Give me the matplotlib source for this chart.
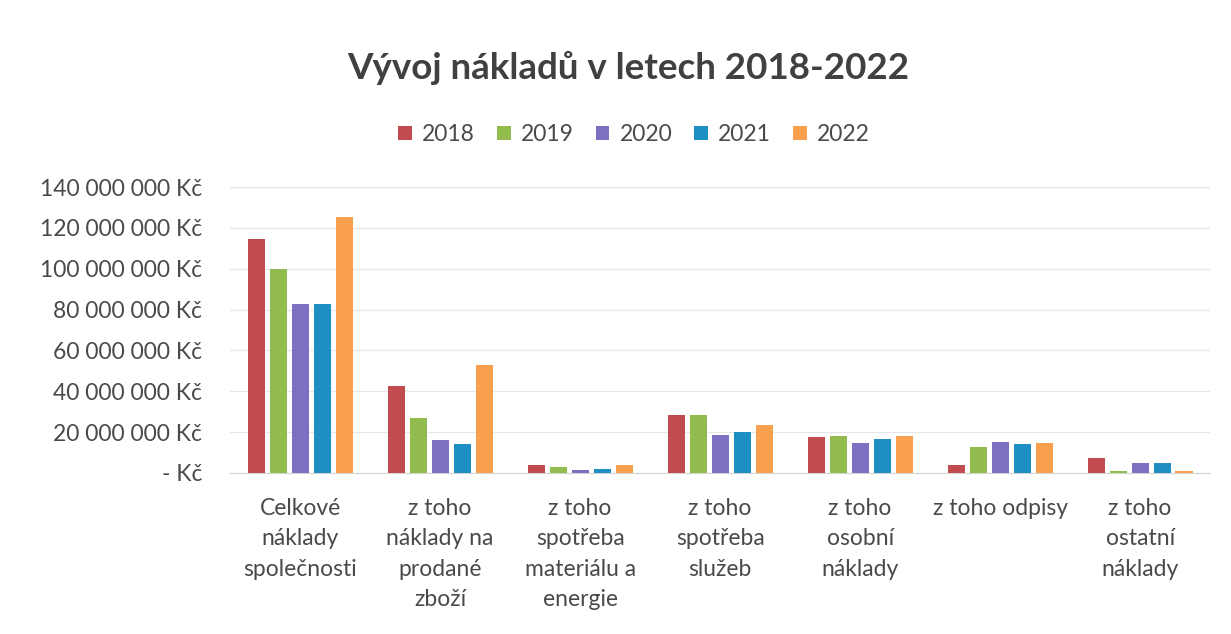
import numpy as np
import matplotlib.pyplot as plt
from matplotlib.ticker import FuncFormatter

plt.rcParams['font.family'] = ['Lato', 'DejaVu Sans']

categories = ["Celkové\nnáklady\nspolečnosti", "z toho\nnáklady na\nprodané\nzboží",
              "z toho\nspotřeba\nmateriálu a\nenergie", "z toho\nspotřeba\nslužeb",
              "z toho\nosobní\nnáklady", "z toho odpisy", "z toho\nostatní\nnáklady"]
years = ["2018", "2019", "2020", "2021", "2022"]
colors = ["#C14B4E", "#93BC4E", "#7D6FC2", "#1E8FC3", "#F9A04F"]

# values in millions of Kč
v2018 = [114.5, 42.5, 3.8, 28.5, 17.5, 4.0, 7.5]
v2019 = [100.0, 26.7, 2.8, 28.3, 18.2, 12.5, 1.2]
v2020 = [82.5, 16.1, 1.5, 18.8, 14.6, 15.3, 4.7]
v2021 = [82.5, 14.0, 2.0, 20.3, 16.6, 14.0, 4.7]
v2022 = [125.3, 52.8, 3.9, 23.3, 17.9, 14.9, 0.9]
series = [v2018, v2019, v2020, v2021, v2022]

fig = plt.figure(figsize=(12.31, 6.34), dpi=100)
ax = fig.add_axes([0.187, 0.254, 0.796, 0.451])

x = np.arange(len(categories))
step = 0.157
width = 0.122
for i, (yr, vals) in enumerate(zip(years, series)):
    ax.bar(x + (i - 2) * step, np.array(vals) * 1e6, width, color=colors[i], label=yr, zorder=3)

ax.set_xlim(-0.5, len(categories) - 0.5)
ax.set_ylim(0, 140e6)
ax.set_yticks(np.arange(0, 140e6 + 1, 20e6))

def kc(v, pos):
    if v == 0:
        return "- Kč"
    return "{:,.0f} Kč".format(v).replace(",", " ")

ax.yaxis.set_major_formatter(FuncFormatter(kc))
ax.set_xticks(x)
ax.set_xticklabels(categories, linespacing=1.55, va="top", fontsize=16.5)
ax.tick_params(axis="both", length=0, colors="#4a4a4a")
ax.tick_params(axis="y", labelsize=16.5, pad=20)
ax.tick_params(axis="x", pad=18)
ax.grid(axis="y", color="#e6e6e6", linewidth=0.9, zorder=0)
for s in ["top", "right", "left"]:
    ax.spines[s].set_visible(False)
ax.spines["bottom"].set_color("#d4d4d4")

fig.text(0.51, 0.893, "Vývoj nákladů v letech 2018-2022", ha="center", va="center",
         fontsize=26.5, fontweight="bold", color="#404040")
fig.legend(loc="center", bbox_to_anchor=(0.515, 0.788), ncol=5, frameon=False,
           fontsize=16.5, handlelength=0.6, handleheight=0.6, handletextpad=0.45,
           columnspacing=0.95, labelcolor="#4a4a4a")

fig.savefig("out.png", dpi=100)
